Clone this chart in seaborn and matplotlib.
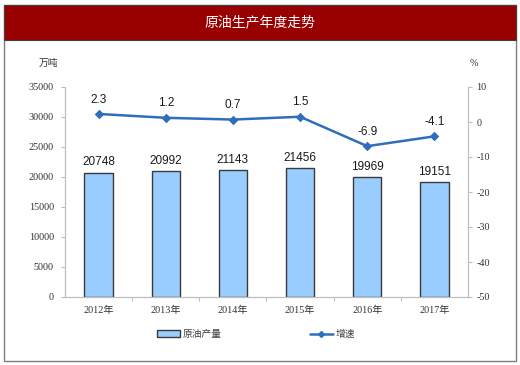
import matplotlib
matplotlib.use("Agg")
import matplotlib.pyplot as plt
import seaborn as sns
from matplotlib.patches import Rectangle, Patch
from matplotlib.lines import Line2D

# data
years = ["2012年", "2013年", "2014年", "2015年", "2016年", "2017年"]
output = [20748, 20992, 21143, 21456, 19969, 19151]   # 万吨
growth = [2.3, 1.2, 0.7, 1.5, -6.9, -4.1]              # %

title = "原油生产年度走势"
bar_name = "原油产量"
line_name = "增速"

bar_color = "#99CCFF"
bar_edge = "#3a3a3a"
line_color = "#2F6EBA"
axis_gray = "#bfbfbf"

sns.set_style("white")
plt.rcParams["font.family"] = ["Noto Sans CJK SC", "DejaVu Sans"]
plt.rcParams["axes.unicode_minus"] = False

W, H = 520, 365
fig = plt.figure(figsize=(W / 100, H / 100), dpi=100)


def fx(px):
    return px / W


def fy(py):
    return 1 - py / H


# outer frame and red header
fig.patches.append(Rectangle((fx(4), fy(361)), fx(516) - fx(4), fy(5) - fy(361),
                             transform=fig.transFigure, fill=False,
                             ec="#7f7f7f", lw=1))
fig.patches.append(Rectangle((fx(4), fy(40)), fx(516) - fx(4), fy(5) - fy(40),
                             transform=fig.transFigure, fc="#990000",
                             ec="#404040", lw=0.8))
fig.text(0.5, fy(22), title, color="white", fontsize=10, ha="center", va="center")

ax = fig.add_axes([fx(65), fy(297), fx(468) - fx(65), fy(87) - fy(297)])
sns.barplot(x=years, y=output, ax=ax, color=bar_color, saturation=1,
            edgecolor=bar_edge, linewidth=1, width=0.42)
ax.set_ylim(0, 35000)
ax.set_yticks(range(0, 35001, 5000))
ax.set_xlim(-0.5, len(years) - 0.5)
ax.set_xlabel("")
ax.set_ylabel("")

ax.bar_label(ax.containers[0], labels=[str(v) for v in output], padding=3,
             fontsize=8.5, family="Liberation Sans", color="#1a1a1a")

ax2 = ax.twinx()
sns.pointplot(x=years, y=growth, ax=ax2, color=line_color, markers="D",
              markersize=3.5, linewidth=1.8)
ax2.set_ylim(-50, 10)
ax2.set_yticks(range(-50, 11, 10))
ax2.set_xlim(-0.5, len(years) - 0.5)
ax2.set_xlabel("")
ax2.set_ylabel("")

for i, v in enumerate(growth):
    ax2.annotate(f"{v:g}", (i, v), xytext=(0, 6), textcoords="offset points",
                 ha="center", va="bottom", fontsize=8.5,
                 family="Liberation Sans", color="#1a1a1a")

# spines / ticks
for a in (ax, ax2):
    a.spines["top"].set_visible(False)
    a.grid(False)
ax.spines["right"].set_visible(False)
ax2.spines["left"].set_visible(False)
ax2.spines["bottom"].set_visible(False)
for s in ("left", "bottom"):
    ax.spines[s].set_color(axis_gray)
    ax.spines[s].set_linewidth(0.9)
ax2.spines["right"].set_color(axis_gray)
ax2.spines["right"].set_linewidth(0.9)

ax.tick_params(axis="y", length=3, width=0.8, color=axis_gray, pad=5,
               labelsize=7.3, labelcolor="#333333", left=True)
ax2.tick_params(axis="y", length=3, width=0.8, color=axis_gray, pad=3,
                labelsize=7.3, labelcolor="#333333", right=True)
ax.tick_params(axis="x", length=0, pad=6, labelsize=7.3, labelcolor="#333333")
ax.set_xticks([i + 0.5 for i in range(len(years) - 1)], minor=True)
ax.tick_params(axis="x", which="minor", length=3, width=0.8, color=axis_gray,
               bottom=True)

for lab in ax.get_yticklabels() + ax2.get_yticklabels():
    lab.set_fontfamily("Liberation Serif")
for lab in ax.get_xticklabels():
    lab.set_fontfamily(["Liberation Serif", "Noto Sans CJK SC"])

fig.text(fx(48), fy(63), "万吨", fontsize=7, ha="center", va="center",
         color="#333333")
fig.text(fx(474), fy(63), "%", fontsize=7.3, ha="center", va="center",
         color="#333333", family="Liberation Serif")

handles = [Patch(fc=bar_color, ec=bar_edge, lw=1),
           Line2D([], [], color=line_color, marker="D", ms=3, lw=1.8)]
fig.legend(handles, [bar_name, line_name], loc="center",
           bbox_to_anchor=(fx(256), fy(334)), ncol=2, frameon=False,
           fontsize=7, columnspacing=9, handlelength=2.4, handletextpad=0.3,
           labelcolor="#404040")

fig.savefig("out.png", dpi=100)
